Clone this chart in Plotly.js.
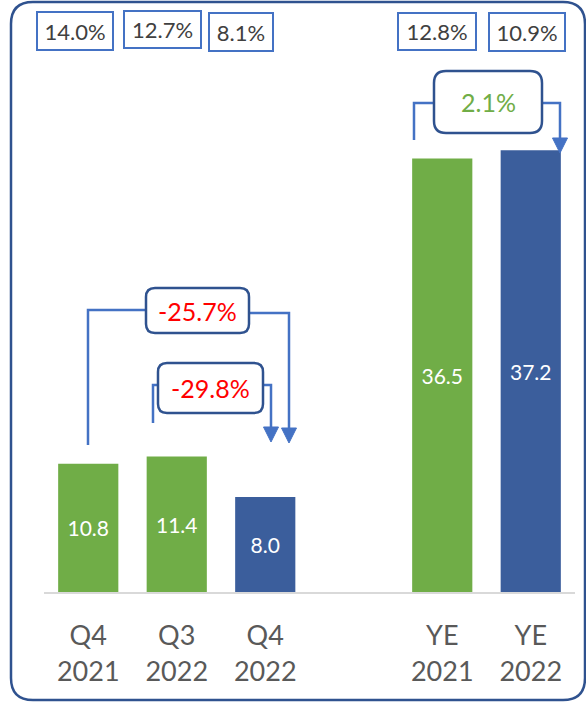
<!DOCTYPE html>
<html>
<head>
<meta charset="utf-8">
<script src="https://cdn.plot.ly/plotly-3.0.1.min.js"></script>
<style>html,body{margin:0;padding:0;background:#fff;}#chart{width:586px;height:702px;}</style>
</head>
<body>
<div id="chart"></div>
<script>
// ---- data ----
const categories = ['Q4<br>2021', 'Q3<br>2022', 'Q4<br>2022', 'YE<br>2021', 'YE<br>2022'];
const values = [10.8, 11.4, 8.0, 36.5, 37.2];
const barColors = ['#70AD47', '#70AD47', '#3B5E9C', '#70AD47', '#3B5E9C'];
const marginLabels = ['14.0%', '12.7%', '8.1%', '12.8%', '10.9%'];
const changeLabels = ['-25.7%', '-29.8%', '2.1%'];
const changeColors = ['#FF0000', '#FF0000', '#70AD47'];

// ---- layout helpers (pixel -> paper) ----
const W = 586, H = 702;
function P(px, py) { return (px / W).toFixed(5) + ',' + (1 - py / H).toFixed(5); }
function rrect(x0, y0, x1, y1, r) {
  return 'M' + P(x0 + r, y0) + ' L' + P(x1 - r, y0) + ' Q' + P(x1, y0) + ' ' + P(x1, y0 + r) +
    ' L' + P(x1, y1 - r) + ' Q' + P(x1, y1) + ' ' + P(x1 - r, y1) +
    ' L' + P(x0 + r, y1) + ' Q' + P(x0, y1) + ' ' + P(x0, y1 - r) +
    ' L' + P(x0, y0 + r) + ' Q' + P(x0, y0) + ' ' + P(x0 + r, y0) + ' Z';
}
function poly(pts) { return 'M' + pts.map(p => P(p[0], p[1])).join(' L'); }

const lineBlue = '#4472C4';
const boxBlue = '#2F528F';
const FONT = 'Lato, "Open Sans", sans-serif';

const shapes = [];
// outer rounded frame
shapes.push({type: 'path', xref: 'paper', yref: 'paper', path: rrect(11, 2, 585, 700, 22),
  line: {color: boxBlue, width: 2.5}, fillcolor: 'rgba(0,0,0,0)', layer: 'below'});

// connector lines
const conns = [
  [[88, 445], [88, 310], [150, 310]],
  [[245, 313], [289, 313], [289, 430]],
  [[153, 423], [153, 385], [162, 385]],
  [[260, 385], [271, 385], [271, 429]],
  [[414, 140], [414, 103], [438, 103]],
  [[538, 103], [560, 103], [560, 140]]
];
conns.forEach(c => shapes.push({type: 'path', xref: 'paper', yref: 'paper', path: poly(c),
  line: {color: lineBlue, width: 2.5}}));
// arrowheads
const heads = [[289, 443], [271, 442], [560, 153]];
heads.forEach(h => shapes.push({type: 'path', xref: 'paper', yref: 'paper',
  path: poly([[h[0] - 7.5, h[1] - 15], [h[0] + 7.5, h[1] - 15], [h[0], h[1]]]) + ' Z',
  line: {color: lineBlue, width: 1}, fillcolor: lineBlue}));

// rounded change boxes
const cboxes = [[146, 288, 249, 333, 9], [158, 363, 263, 413, 9], [434, 71, 542, 133, 12]];
cboxes.forEach(b => shapes.push({type: 'path', xref: 'paper', yref: 'paper', path: rrect(b[0], b[1], b[2], b[3], b[4]),
  line: {color: boxBlue, width: 2.5}, fillcolor: '#FFFFFF'}));

const annotations = [];
// margin boxes at top
const mboxes = [[75, 31.5, 76, 38], [162.5, 29.5, 77, 37], [241, 32, 64, 38], [437, 31.5, 78, 37], [527, 32, 76, 38]];
marginLabels.forEach((t, i) => {
  const b = mboxes[i];
  annotations.push({xref: 'paper', yref: 'paper', x: b[0] / W, y: 1 - b[1] / H, xanchor: 'center', yanchor: 'middle',
    text: t, showarrow: false, font: {family: FONT, size: 22, color: '#404040'},
    width: b[2] - 2, height: b[3] - 2, align: 'center', valign: 'middle',
    bordercolor: lineBlue, borderwidth: 2, borderpad: 0, bgcolor: '#FFFFFF'});
});
// change labels
changeLabels.forEach((t, i) => {
  const b = cboxes[i];
  annotations.push({xref: 'paper', yref: 'paper', x: (b[0] + b[2]) / 2 / W, y: 1 - (b[1] + b[3]) / 2 / H,
    xanchor: 'center', yanchor: 'middle', text: t, showarrow: false,
    font: {family: FONT, size: 25, color: changeColors[i]}});
});

const trace = {
  type: 'bar', x: categories, y: values,
  marker: {color: barColors, line: {width: 0}},
  width: 0.68,
  text: values.map(v => v.toFixed(1)), textposition: 'inside', insidetextanchor: 'middle',
  textangle: 0, textfont: {family: FONT, size: 21, color: '#FFFFFF'},
  hoverinfo: 'skip', cliponaxis: false
};

const layout = {
  width: W, height: H, autosize: false,
  margin: {l: 0, r: 0, t: 0, b: 0},
  paper_bgcolor: '#FFFFFF', plot_bgcolor: 'rgba(0,0,0,0)',
  showlegend: false,
  xaxis: {
    type: 'category',
    categoryorder: 'array',
    categoryarray: [categories[0], categories[1], categories[2], ' ', categories[3], categories[4]],
    range: [-0.5, 5.5],
    domain: [44 / W, 575 / W],
    showline: true, linecolor: '#D9D9D9', linewidth: 2,
    ticks: '', showgrid: false, zeroline: false, automargin: false,
    tickfont: {family: FONT, size: 27, color: '#595959'},
    ticklabelstandoff: 19,
    fixedrange: true
  },
  yaxis: {
    range: [0, 49], domain: [110 / H, 692 / H], visible: false, fixedrange: true, automargin: false
  },
  shapes: shapes,
  annotations: annotations
};

Plotly.newPlot('chart', [trace], layout, {displayModeBar: false, staticPlot: true});
</script>
</body>
</html>
